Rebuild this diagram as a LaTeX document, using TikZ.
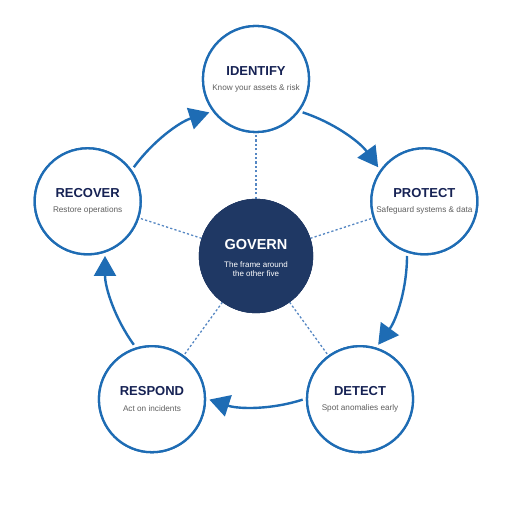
\documentclass[tikz,border=0pt]{standalone}
\usepackage{fontspec}
\setmainfont{Liberation Sans}
\usetikzlibrary{arrows.meta,calc}
\definecolor{ringblue}{RGB}{30,108,180}
\definecolor{navyfill}{RGB}{31,56,100}
\definecolor{titlenavy}{RGB}{22,34,84}
\definecolor{subgray}{RGB}{95,95,95}
\definecolor{dotblue}{RGB}{85,135,195}
\tikzset{
  phase/.style={circle,draw=ringblue,line width=2.3pt,fill=white,minimum size=106pt,inner sep=0pt},
  core/.style={circle,fill=navyfill,draw=navyfill,minimum size=114pt,inner sep=0pt},
  ttl/.style={font=\fontsize{13}{15}\selectfont\bfseries,text=titlenavy},
  sub/.style={font=\fontsize{8.2}{9}\selectfont,text=subgray},
  flow/.style={draw=ringblue,line width=2.4pt,-{Triangle[length=20pt,width=22pt]}},
  link/.style={draw=dotblue,line width=1.3pt,dash pattern=on 2.2pt off 2.2pt}
}
\begin{document}
\begin{tikzpicture}[x=1pt,y=1pt]
\useasboundingbox (0,0) rectangle (512,512);
\fill[white] (0,0) rectangle (512,512);
\coordinate (c) at (256,256);
% outer phase nodes
\node[phase] (id) at ($(c)+(90:177)$) {};
\node[phase] (pr) at ($(c)+(18:177)$) {};
\node[phase] (de) at ($(c)+(-54:177)$) {};
\node[phase] (re) at ($(c)+(-126:177)$) {};
\node[phase] (rc) at ($(c)+(162:177)$) {};
\node[core] (gv) at (c) {};
% dotted links
\foreach \n in {id,pr,de,re,rc}{\draw[link] (gv) -- (\n);}
% redraw nodes on top of links
\node[phase] at (id) {};
\node[phase] at (pr) {};
\node[phase] at (de) {};
\node[phase] at (re) {};
\node[phase] at (rc) {};
\node[core] at (gv) {};
% flow arcs
\draw[flow] ($(c)+(72:151)$) arc[start angle=72,end angle=36,radius=151];
\draw[flow] ($(c)+(0:151)$) arc[start angle=0,end angle=-36,radius=151];
\draw[flow] ($(c)+(-72:151)$) arc[start angle=-72,end angle=-108,radius=151];
\draw[flow] ($(c)+(-144:151)$) arc[start angle=-144,end angle=-180,radius=151];
\draw[flow] ($(c)+(144:151)$) arc[start angle=144,end angle=108,radius=151];
% texts
\node[ttl] at ($(id)+(0,8)$) {IDENTIFY};
\node[sub] at ($(id)+(0,-9)$) {Know your assets \& risk};
\node[ttl] at ($(pr)+(0,8)$) {PROTECT};
\node[sub] at ($(pr)+(0,-9)$) {Safeguard systems \& data};
\node[ttl] at ($(de)+(0,8)$) {DETECT};
\node[sub] at ($(de)+(0,-9)$) {Spot anomalies early};
\node[ttl] at ($(re)+(0,8)$) {RESPOND};
\node[sub] at ($(re)+(0,-9)$) {Act on incidents};
\node[ttl] at ($(rc)+(0,8)$) {RECOVER};
\node[sub] at ($(rc)+(0,-9)$) {Restore operations};
\node[font=\fontsize{14.5}{16}\selectfont\bfseries,text=white] at ($(gv)+(0,11)$) {GOVERN};
\node[font=\fontsize{8}{9.5}\selectfont,text=white,align=center] at ($(gv)+(0,-13)$) {The frame around\\the other five};
\end{tikzpicture}
\end{document}
